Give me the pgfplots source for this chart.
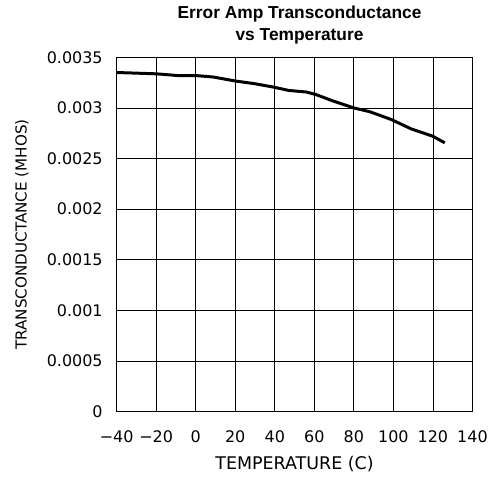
\documentclass[border=0pt]{standalone}
\usepackage{pgfplots}
\pgfplotsset{compat=1.18}
\usepackage{fontspec}
\setmainfont{DejaVu Sans}
\newfontfamily\titlefont{Liberation Sans}
\begin{document}
\begin{tikzpicture}
\begin{axis}[
  scale only axis,
  width=357pt, height=355.5pt,
  xmin=-40, xmax=140, ymin=0, ymax=0.0035,
  xtick={-40,-20,...,140},
  xticklabels={−40,−20,0,20,40,60,80,100,120,140},
  ytick={0,0.0005,0.001,0.0015,0.002,0.0025,0.003,0.0035},
  yticklabels={0,0.0005,0.001,0.0015,0.002,0.0025,0.003,0.0035},
  scaled y ticks=false,
  grid=major,
  grid style={black, line width=0.8pt},
  axis line style={black, line width=0.9pt},
  major tick length=0pt,
  tick label style={font=\fontsize{16}{19}\selectfont},
  xticklabel style={anchor=center, yshift=-25pt},
  yticklabel style={anchor=east, xshift=-10.5pt},
  xlabel={TEMPERATURE (C)},
  ylabel={TRANSCONDUCTANCE (MHOS)},
  xlabel style={font=\fontsize{17.5}{20}\selectfont, at={(axis description cs:0.5,0)}, anchor=center, yshift=-53pt},
  ylabel style={font=\fontsize{15.2}{18}\selectfont, at={(axis description cs:0,0.5)}, anchor=center, yshift=95pt},
  title={Error Amp Transconductance\\vs Temperature},
  title style={at={(axis description cs:0.5,1)}, anchor=south, align=center,
    font=\titlefont\bfseries\fontsize{17.4}{22.6}\selectfont, yshift=3.5pt, xshift=5pt},
]
\addplot[black, line width=3pt, line join=round] coordinates {
(-40,0.003350) (-20,0.003337) (-8,0.003318) (0,0.003320) (9,0.003305)
(20,0.003266) (30,0.003239) (39,0.003207) (47,0.003173) (56,0.003157)
(61,0.003131) (69,0.003072) (80,0.003000) (88,0.002963) (99,0.002885)
(109,0.002793) (120,0.002720) (126,0.002655)
};
\end{axis}
\path ([shift={(-117pt,-78pt)}]current axis.south west) rectangle ([shift={(17pt,57.5pt)}]current axis.north east);
\end{tikzpicture}
\end{document}
